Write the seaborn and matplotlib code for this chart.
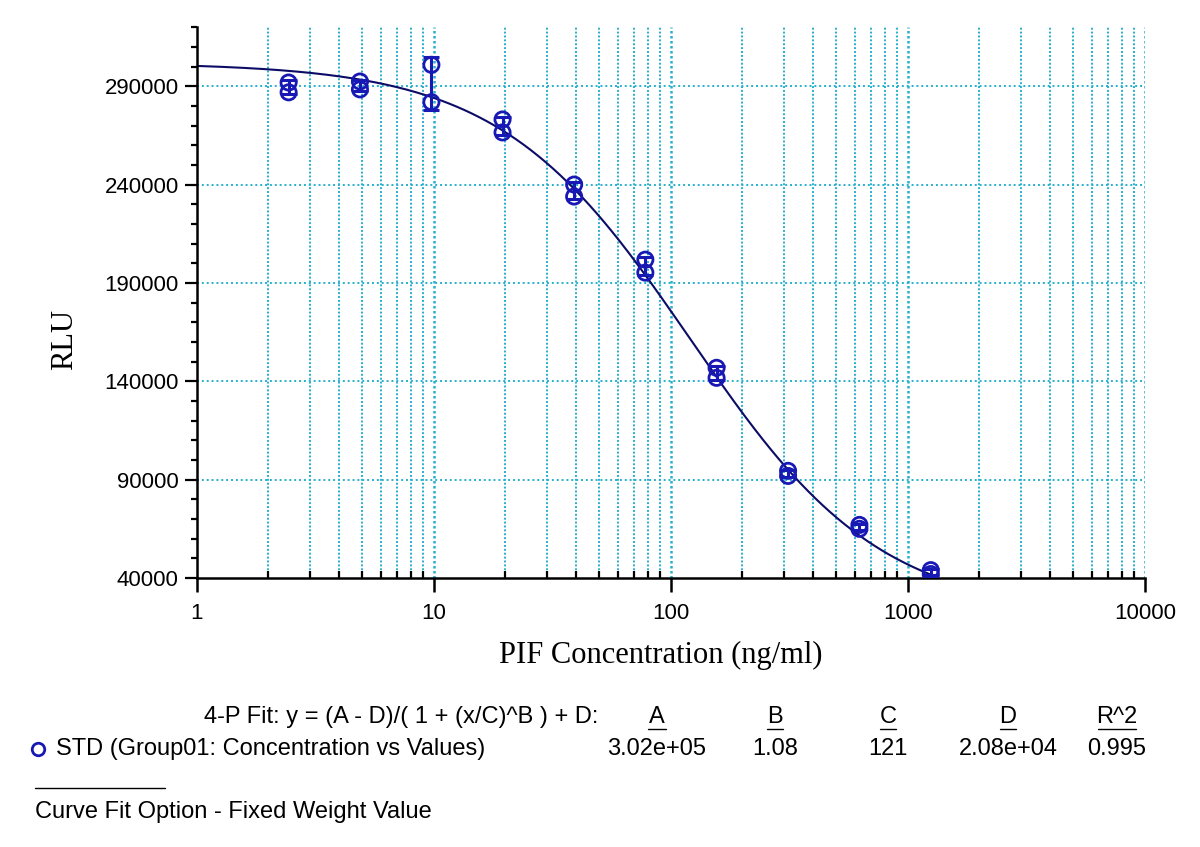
import numpy as np
import pandas as pd
import matplotlib
matplotlib.use('Agg')
import matplotlib.pyplot as plt
from matplotlib.ticker import MultipleLocator, LogLocator, NullFormatter, FixedLocator, FuncFormatter
import seaborn as sns

# standard concentrations (ng/ml) and duplicate RLU readings
conc = [2.44, 4.88, 9.77, 19.5, 39.1, 78.1, 156, 312.5, 625, 1250]
rep1 = [292000, 292500, 301000, 273200, 240100, 201900, 146900, 94500, 67000, 44000]
rep2 = [287000, 288500, 282000, 266600, 234000, 195300, 141800, 91900, 65000, 42000]

# 4-P fit parameters shown in the table
fit_names = ['A', 'B', 'C', 'D', "R^2"]
fit_labels = ['3.02e+05', '1.08', '121', '2.08e+04', '0.995']
A, B, C, D = 3.02e5, 1.08, 121, 2.08e4

point_color = '#1818b4'
curve_color = '#0c0c66'
grid_color = '#28b0cc'

sns.set_style('white')
plt.rcParams['font.family'] = ['Liberation Sans', 'DejaVu Sans']
plt.rcParams['text.color'] = 'black'
plt.rcParams['axes.labelcolor'] = 'black'
plt.rcParams['xtick.color'] = 'black'
plt.rcParams['ytick.color'] = 'black'

df = pd.DataFrame({'conc': conc * 2, 'rlu': rep1 + rep2})
stats = df.groupby('conc')['rlu'].agg(['mean', 'std']).reset_index()

xs = np.logspace(0, np.log10(1250), 300)
curve = pd.DataFrame({'x': xs, 'y': (A - D) / (1 + (xs / C) ** B) + D})

fig = plt.figure(figsize=(12, 8.47), dpi=100)
ax = fig.add_axes([0.164, 0.3176, 0.79, 0.65])
ax.set_xscale('log')
ax.set_xlim(1, 10000)
ax.set_ylim(40000, 320000)

# grid
for e in range(0, 4):
    for m in range(2, 11):
        major = (m == 10)
        ax.axvline(m * 10 ** e, color=grid_color, lw=1.8 if major else 1.4,
                   ls=(0, (1, 1)), zorder=0)
for h in range(90000, 300000, 50000):
    ax.axhline(h, color=grid_color, lw=1.4, ls=(0, (1, 1.5)), zorder=0)

sns.lineplot(data=curve, x='x', y='y', ax=ax, color=curve_color, lw=1.5, zorder=2)
ax.errorbar(stats['conc'], stats['mean'], yerr=stats['std'],
            fmt='none', ecolor=point_color, elinewidth=2.2, capsize=6, capthick=2.2, zorder=3)
sns.scatterplot(data=df, x='conc', y='rlu', ax=ax, marker='o', s=120,
                facecolor='none', edgecolor=point_color, linewidth=2, zorder=4)

ax.yaxis.set_major_locator(FixedLocator(range(40000, 300000, 50000)))
ax.yaxis.set_minor_locator(MultipleLocator(10000))
ax.xaxis.set_major_locator(LogLocator(base=10))
ax.xaxis.set_minor_locator(LogLocator(base=10, subs=range(2, 10)))
ax.xaxis.set_minor_formatter(NullFormatter())
ax.xaxis.set_major_formatter(FuncFormatter(lambda v, p: f'{v:g}'))
ax.tick_params(axis='y', which='major', direction='out', length=9, width=1.6,
               labelsize=16, pad=4, left=True)
ax.tick_params(axis='y', which='minor', direction='out', length=4, width=1.6, left=True)
ax.tick_params(axis='x', which='major', direction='out', length=10, width=1.8,
               labelsize=16, pad=8, bottom=True)
ax.tick_params(axis='x', which='minor', direction='in', length=5, width=1.6, bottom=True)

sns.despine(ax=ax)
for s in ['left', 'bottom']:
    ax.spines[s].set_linewidth(1.8)
    ax.spines[s].set_color('black')

ax.set_xlabel('PIF Concentration (ng/ml)', family='Liberation Serif', fontsize=22)
ax.set_ylabel('RLU', family='Liberation Serif', fontsize=22)
ax.xaxis.label.set_va('center')
ax.yaxis.label.set_va('center')
ax.xaxis.set_label_coords(0.489, -0.14)
ax.yaxis.set_label_coords(-0.139, 0.433)

# fit table below the chart
fs = 17
fig.text(598 / 1200, 1 - 717 / 847, '4-P Fit: y = (A - D)/( 1 + (x/C)^B ) + D:',
         ha='right', va='center', fontsize=fs)
for cx, name, val, w in zip([657, 775, 888, 1008, 1117], fit_names, fit_labels,
                            [18, 16, 16, 16, 38]):
    fig.text(cx / 1200, 1 - 717 / 847, name, ha='center', va='center', fontsize=fs)
    fig.text(cx / 1200, 1 - 749 / 847, val, ha='center', va='center', fontsize=fs)
    fig.add_artist(plt.Line2D([(cx - w / 2) / 1200, (cx + w / 2) / 1200],
                              [1 - 729 / 847] * 2, color='black', lw=1))
fig.add_artist(plt.Line2D([38 / 1200], [1 - 749 / 847], marker='o', markersize=9,
                          markerfacecolor='none', markeredgecolor=point_color, markeredgewidth=2))
fig.text(56 / 1200, 1 - 749 / 847, 'STD (Group01: Concentration vs Values)',
         ha='left', va='center', fontsize=fs)
fig.add_artist(plt.Line2D([35 / 1200, 165 / 1200], [1 - 788 / 847] * 2, color='black', lw=1))
fig.text(35 / 1200, 1 - 812 / 847, 'Curve Fit Option - Fixed Weight Value',
         ha='left', va='center', fontsize=fs)

fig.savefig('out.png', dpi=100)
